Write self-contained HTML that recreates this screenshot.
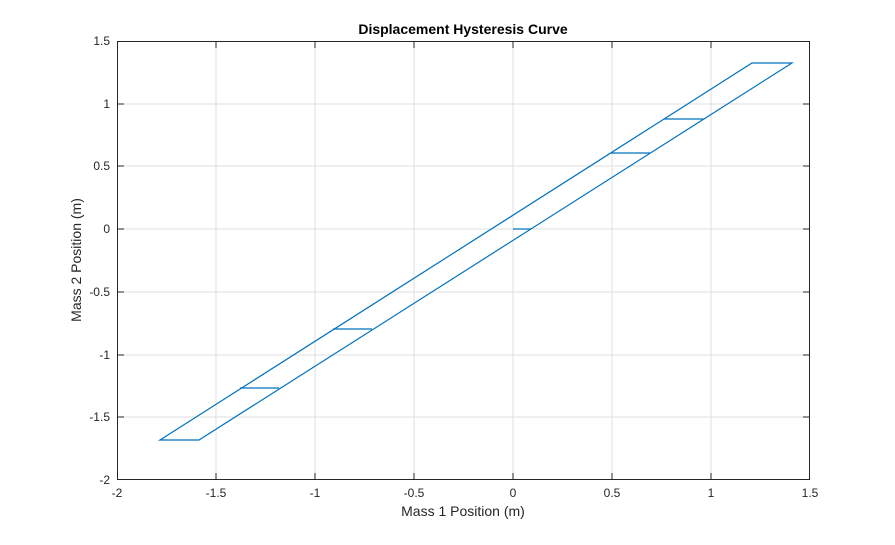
<!DOCTYPE html>
<html><head><style>body{margin:0;background:#fff}</style></head><body>
<svg width="895" height="540" xmlns="http://www.w3.org/2000/svg" font-family="Liberation Sans, sans-serif">
<rect width="895" height="540" fill="#fff"/>
<g stroke="#dfdfdf" stroke-width="1">
<line x1="216" y1="41" x2="216" y2="480"/><line x1="315" y1="41" x2="315" y2="480"/><line x1="414" y1="41" x2="414" y2="480"/><line x1="513" y1="41" x2="513" y2="480"/><line x1="612" y1="41" x2="612" y2="480"/><line x1="711" y1="41" x2="711" y2="480"/>
<line x1="117" y1="104" x2="810" y2="104"/><line x1="117" y1="166" x2="810" y2="166"/><line x1="117" y1="229" x2="810" y2="229"/><line x1="117" y1="292" x2="810" y2="292"/><line x1="117" y1="355" x2="810" y2="355"/><line x1="117" y1="417" x2="810" y2="417"/>
</g>
<rect x="117.5" y="41.5" width="692" height="438" fill="none" stroke="#262626" stroke-width="1"/>
<g stroke="#262626">
<path d="M216 480v-7M315 480v-7M414 480v-7M513 480v-7M612 480v-7M711 480v-7M216 41v7M315 41v7M414 41v7M513 41v7M612 41v7M711 41v7"/>
<path d="M117 104h7M117 166h7M117 229h7M117 292h7M117 355h7M117 417h7M810 104h-7M810 166h-7M810 229h-7M810 292h-7M810 355h-7M810 417h-7"/>
</g>
<g fill="none" stroke="#0072bd" stroke-width="1.2">
<path d="M160 440L752 63L792 63L199 440Z"/>
<path d="M240 388H279M333 329H372M513 229H531M611 153H650M664 119H703"/>
</g>
<g font-size="12" fill="#262626" text-anchor="middle">
<text x="117" y="497">-2</text><text x="216" y="497">-1.5</text><text x="315" y="497">-1</text><text x="414" y="497">-0.5</text><text x="513" y="497">0</text><text x="612" y="497">0.5</text><text x="711" y="497">1</text><text x="810" y="497">1.5</text>
</g>
<g font-size="12" fill="#262626" text-anchor="end">
<text x="110" y="45">1.5</text><text x="110" y="108">1</text><text x="110" y="170">0.5</text><text x="110" y="233">0</text><text x="110" y="296">-0.5</text><text x="110" y="359">-1</text><text x="110" y="421">-1.5</text><text x="110" y="484">-2</text>
</g>
<text x="463" y="516" font-size="14" text-anchor="middle" fill="#262626">Mass 1 Position (m)</text>
<text transform="translate(81,260) rotate(-90)" font-size="14" text-anchor="middle" fill="#262626">Mass 2 Position (m)</text>
<text x="463" y="34" font-size="14" font-weight="bold" text-anchor="middle" fill="#000">Displacement Hysteresis Curve</text>
</svg>
</body></html>
